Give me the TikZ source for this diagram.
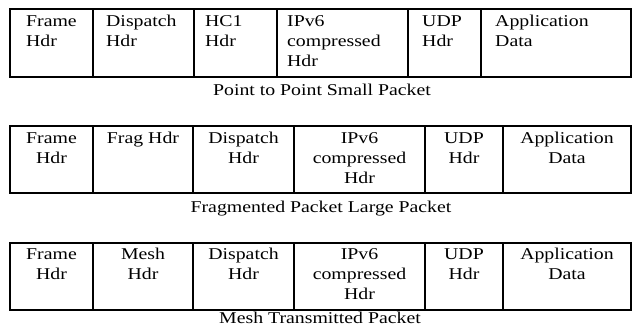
\documentclass[tikz,border=0pt]{standalone}
\usepackage{fontspec}
\setmainfont{Liberation Serif}[FakeStretch=1.2]
\begin{document}
\begin{tikzpicture}[x=1pt,y=-1pt,
  cellbox/.style={draw=black,line width=1.5pt,inner sep=0pt,outer sep=0pt,anchor=north west},
  fieldtext/.style={inner sep=0pt,font=\fontsize{16.5}{20}\selectfont},
  lefttext/.style={fieldtext,align=left,anchor=north west},
  midtext/.style={fieldtext,align=center,anchor=north},
  captext/.style={inner sep=0pt,anchor=base,font=\fontsize{16.5}{20}\selectfont}]
\useasboundingbox (0,0) rectangle (632,328);

% --- point to point frame: left-aligned fields (first baseline at y=26)
\foreach \l/\r [count=\i] in {10/93,93/194,194/277,277/408,408/481,481/631}
  \node[cellbox,minimum width=\r-\l,minimum height=68] (a\i) at (\l,9) {};
\node[lefttext] (ta1) at (26,12) {\strut Frame\\Hdr};
\node[lefttext] (ta2) at (106,12) {\strut Dispatch\\Hdr};
\node[lefttext] (ta3) at (205,12) {\strut HC1\\Hdr};
\node[lefttext] (ta4) at (287,12) {\strut IPv6\\compressed\\Hdr};
\node[lefttext] (ta5) at (422,12) {\strut UDP\\Hdr};
\node[lefttext] (ta6) at (495,12) {\strut Application\\Data};
\node[captext] (capa) at (322,96) {Point to Point Small Packet};

% --- fragmented frame: centred fields (first baseline at y=143)
\foreach \l/\r [count=\i] in {10/93,93/193,193/294,294/425,425/503,503/631}
  \node[cellbox,minimum width=\r-\l,minimum height=67] (b\i) at (\l,126) {};
\node[midtext] (tb1) at (b1.north |- 0,129) {\strut Frame\\Hdr};
\node[midtext] (tb2) at (b2.north |- 0,129) {\strut Frag Hdr};
\node[midtext] (tb3) at (b3.north |- 0,129) {\strut Dispatch\\Hdr};
\node[midtext] (tb4) at (b4.north |- 0,129) {\strut IPv6\\compressed\\Hdr};
\node[midtext] (tb5) at (b5.north |- 0,129) {\strut UDP\\Hdr};
\node[midtext] (tb6) at (b6.north |- 0,129) {\strut Application\\Data};
\node[captext] (capb) at (321,213) {Fragmented Packet Large Packet};

% --- mesh frame: centred fields (first baseline at y=259)
\foreach \l/\r [count=\i] in {10/93,93/193,193/294,294/425,425/503,503/631}
  \node[cellbox,minimum width=\r-\l,minimum height=67] (c\i) at (\l,243) {};
\node[midtext] (tc1) at (c1.north |- 0,245) {\strut Frame\\Hdr};
\node[midtext] (tc2) at (c2.north |- 0,245) {\strut Mesh\\Hdr};
\node[midtext] (tc3) at (c3.north |- 0,245) {\strut Dispatch\\Hdr};
\node[midtext] (tc4) at (c4.north |- 0,245) {\strut IPv6\\compressed\\Hdr};
\node[midtext] (tc5) at (c5.north |- 0,245) {\strut UDP\\Hdr};
\node[midtext] (tc6) at (c6.north |- 0,245) {\strut Application\\Data};
\node[captext] (capc) at (320,324) {Mesh Transmitted Packet};
\end{tikzpicture}
\end{document}
